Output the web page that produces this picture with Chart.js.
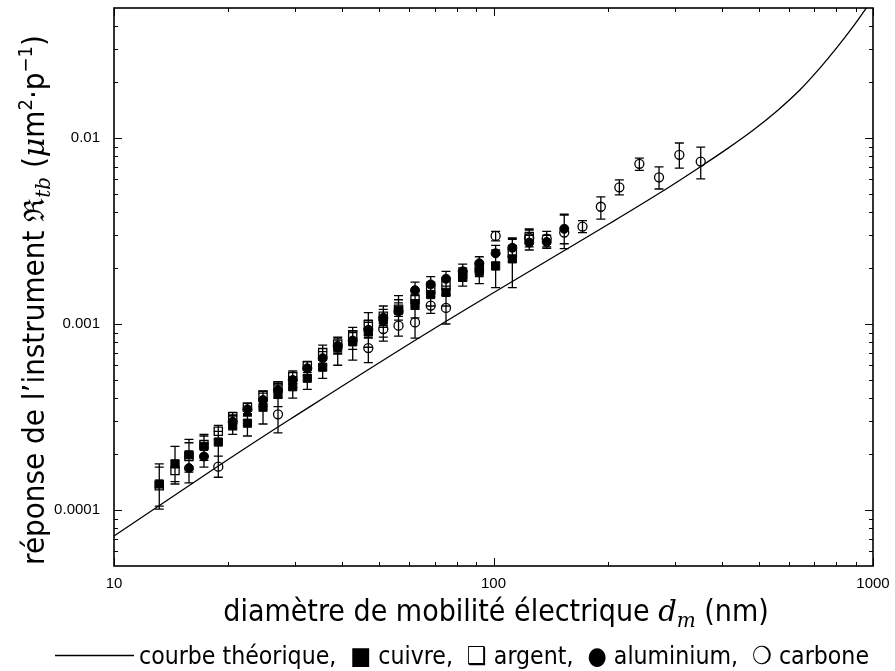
<!DOCTYPE html>
<html><head><meta charset="utf-8">
<script src="https://cdn.jsdelivr.net/npm/chart.js@4.4.1/dist/chart.umd.min.js"></script>
<style>html,body{margin:0;padding:0;background:#fff}canvas{display:block}</style>
</head><body>
<canvas id="c" width="895" height="671"></canvas>
<script>
// ---- data ----
const diameters = [13.16, 14.48, 15.76, 17.26, 18.83, 20.55, 22.47, 24.70, 27.05, 29.58, 32.31, 35.47, 38.86, 42.56, 46.79, 51.24, 56.20, 62.12, 68.32, 74.96, 82.96, 91.75, 101.3, 112.1, 124.2, 138.1, 153.6, 171.6, 191.8, 214.6, 242.3, 273.0, 308.8, 351.6];

const cuivre   = [1.38e-4,1.77e-4,1.98e-4,2.20e-4,2.32e-4,2.86e-4,2.93e-4,3.57e-4,4.18e-4,4.60e-4,5.11e-4,5.86e-4,7.49e-4,8.02e-4,9.09e-4,1.048e-3,1.185e-3,1.27e-3,1.44e-3,1.48e-3,1.78e-3,1.92e-3,2.05e-3,2.24e-3,null,null,null,null,null,null,null,null,null,null];
const cuivreLo = [1.01e-4,1.38e-4,1.60e-4,1.85e-4,1.95e-4,2.55e-4,2.50e-4,2.90e-4,3.60e-4,4.00e-4,4.45e-4,5.10e-4,6.00e-4,6.40e-4,7.50e-4,8.50e-4,8.60e-4,1.08e-3,1.25e-3,1.25e-3,1.60e-3,1.65e-3,1.57e-3,1.57e-3,null,null,null,null,null,null,null,null,null,null];
const cuivreHi = [1.77e-4,2.20e-4,2.40e-4,2.55e-4,2.65e-4,3.20e-4,3.30e-4,4.00e-4,4.70e-4,5.20e-4,5.70e-4,6.60e-4,8.50e-4,9.20e-4,1.05e-3,1.20e-3,1.42e-3,1.45e-3,1.65e-3,1.70e-3,2.00e-3,2.15e-3,2.50e-3,2.90e-3,null,null,null,null,null,null,null,null,null,null];

const argent   = [1.35e-4,1.63e-4,1.94e-4,2.25e-4,2.65e-4,3.17e-4,3.57e-4,4.15e-4,4.64e-4,5.21e-4,5.95e-4,7.02e-4,7.80e-4,8.75e-4,9.92e-4,1.10e-3,1.20e-3,1.353e-3,1.53e-3,1.61e-3,1.85e-3,2.00e-3,null,2.40e-3,2.95e-3,null,null,null,null,null,null,null,null,null];
const argentLo = [1.05e-4,1.42e-4,1.65e-4,1.95e-4,2.40e-4,2.90e-4,3.25e-4,3.85e-4,4.30e-4,4.80e-4,5.50e-4,6.40e-4,7.00e-4,7.90e-4,8.70e-4,9.80e-4,1.05e-3,1.20e-3,1.40e-3,1.45e-3,1.70e-3,1.80e-3,null,2.15e-3,2.60e-3,null,null,null,null,null,null,null,null,null];
const argentHi = [1.70e-4,1.85e-4,2.30e-4,2.50e-4,2.85e-4,3.35e-4,3.75e-4,4.35e-4,4.90e-4,5.60e-4,6.30e-4,7.70e-4,8.50e-4,9.60e-4,1.15e-3,1.25e-3,1.35e-3,1.50e-3,1.68e-3,1.75e-3,2.00e-3,2.15e-3,null,2.65e-3,3.25e-3,null,null,null,null,null,null,null,null,null];

const aluminium   = [null,null,1.68e-4,1.94e-4,null,2.98e-4,3.48e-4,3.90e-4,4.40e-4,5.00e-4,5.78e-4,6.55e-4,7.63e-4,8.15e-4,9.31e-4,1.08e-3,1.17e-3,1.52e-3,1.632e-3,1.75e-3,1.92e-3,2.12e-3,2.40e-3,2.57e-3,2.74e-3,2.76e-3,3.25e-3,null,null,null,null,null,null,null];
const aluminiumLo = [null,null,1.40e-4,1.70e-4,null,2.70e-4,3.20e-4,3.60e-4,4.00e-4,4.55e-4,5.30e-4,6.00e-4,6.90e-4,7.30e-4,8.40e-4,9.60e-4,1.05e-3,1.35e-3,1.48e-3,1.60e-3,1.75e-3,1.95e-3,2.15e-3,2.30e-3,2.50e-3,2.55e-3,2.70e-3,null,null,null,null,null,null,null];
const aluminiumHi = [null,null,2.05e-4,2.15e-4,null,3.25e-4,3.75e-4,4.25e-4,4.80e-4,5.50e-4,6.30e-4,7.10e-4,8.40e-4,9.00e-4,1.02e-3,1.20e-3,1.30e-3,1.68e-3,1.80e-3,1.92e-3,2.10e-3,2.30e-3,2.65e-3,2.85e-3,3.00e-3,3.00e-3,3.85e-3,null,null,null,null,null,null,null];

const carbone   = [null,null,null,null,1.71e-4,null,null,null,3.27e-4,null,null,null,null,null,7.42e-4,9.40e-4,9.80e-4,1.02e-3,1.256e-3,1.22e-3,null,null,2.975e-3,null,2.90e-3,2.88e-3,3.10e-3,3.34e-3,4.27e-3,5.43e-3,7.26e-3,6.15e-3,8.12e-3,7.47e-3];
const carboneLo = [null,null,null,null,1.50e-4,null,null,null,2.60e-4,null,null,null,null,null,6.20e-4,8.10e-4,8.60e-4,8.40e-4,1.14e-3,1.00e-3,null,null,2.80e-3,null,2.70e-3,2.60e-3,2.54e-3,3.10e-3,3.66e-3,4.95e-3,6.70e-3,5.32e-3,6.88e-3,6.03e-3];
const carboneHi = [null,null,null,null,1.95e-4,null,null,null,4.00e-4,null,null,null,null,null,8.50e-4,1.05e-3,1.10e-3,1.20e-3,1.40e-3,1.42e-3,null,null,3.15e-3,null,3.20e-3,3.15e-3,3.90e-3,3.60e-3,4.83e-3,5.95e-3,7.80e-3,7.00e-3,9.40e-3,8.94e-3];

const curveX = [10, 18.83, 29.1, 68.8, 202.8, 274.7, 350.1, 412.4, 482.9, 558.5, 642.3, 725.2, 803.9, 886.0, 952.8, 988];
const curveY = [7.25e-5, 1.724e-4, 3.074e-4, 9.29e-4, 3.48e-3, 5.075e-3, 6.985e-3, 8.74e-3, 0.01101, 0.01397, 0.01816, 0.02384, 0.0307, 0.03972, 0.04891, 0.0543];

const xTickValues = [10, 100, 1000];
const xTickLabels = ['10', '100', '1000'];
const xMinorTicks = [20,30,40,50,60,70,80,90,200,300,400,500,600,700,800,900];
const yTickValues = [0.0001, 0.001, 0.01];
const yTickLabels = ['0.0001', '0.001', '0.01'];
const yMinorTicks = [6e-5,7e-5,8e-5,9e-5,2e-4,3e-4,4e-4,5e-4,6e-4,7e-4,8e-4,9e-4,2e-3,3e-3,4e-3,5e-3,6e-3,7e-3,8e-3,9e-3,2e-2,3e-2,4e-2];

const legendText = 'courbe théorique,  \u25A0 cuivre,  \u2751 argent,  \u25CF aluminium,  \u274D carbone';

// ---- helpers ----
function pts(ys){ const out=[]; ys.forEach((v,i)=>{ if(v!==null) out.push({x:diameters[i], y:v}); }); return out; }
const errorSeries = [
  {y:carbone, lo:carboneLo, hi:carboneHi},
  {y:aluminium, lo:aluminiumLo, hi:aluminiumHi},
  {y:argent, lo:argentLo, hi:argentHi},
  {y:cuivre, lo:cuivreLo, hi:cuivreHi}
];

const SANS = '"DejaVu Sans Condensed", "Liberation Sans Narrow", "DejaVu Sans", sans-serif';
const MATH = '"DejaVu Serif", "Liberation Serif", serif';

function drawRich(ctx, segs, cx, cy, rotate){
  ctx.save();
  ctx.translate(cx, cy);
  if (rotate) ctx.rotate(-Math.PI/2);
  ctx.textBaseline = 'alphabetic';
  ctx.textAlign = 'left';
  ctx.fillStyle = '#000';
  let total = 0;
  segs.forEach(s => { ctx.font = s.f; s.w = ctx.measureText(s.t).width; total += s.w; });
  let xx = -total/2;
  segs.forEach(s => { ctx.font = s.f; ctx.fillText(s.t, xx, s.dy || 0); xx += s.w; });
  ctx.restore();
}

const errorBars = {
  id: 'errorBars',
  beforeDatasetsDraw(chart){
    const {ctx, scales:{x, y}} = chart;
    ctx.save();
    ctx.strokeStyle = '#000';
    ctx.lineWidth = 1.3;
    ctx.beginPath();
    errorSeries.forEach(s => {
      s.y.forEach((v, i) => {
        if (v === null) return;
        const px = x.getPixelForValue(diameters[i]);
        const pl = y.getPixelForValue(s.lo[i]);
        const ph = y.getPixelForValue(s.hi[i]);
        ctx.moveTo(px, pl); ctx.lineTo(px, ph);
        ctx.moveTo(px-4.5, pl); ctx.lineTo(px+4.5, pl);
        ctx.moveTo(px-4.5, ph); ctx.lineTo(px+4.5, ph);
      });
    });
    ctx.stroke();
    ctx.restore();
  }
};

const frame = {
  id: 'frame',
  afterDatasetsDraw(chart){
    const {ctx, chartArea:a, scales:{x, y}} = chart;
    ctx.save();
    ctx.strokeStyle = '#000';
    ctx.lineWidth = 1;
    ctx.beginPath();
    const xt = (v, len) => { const p = Math.round(x.getPixelForValue(v)) + 0.5;
      ctx.moveTo(p, a.bottom); ctx.lineTo(p, a.bottom - len);
      ctx.moveTo(p, a.top); ctx.lineTo(p, a.top + len); };
    const yt = (v, len) => { const p = Math.round(y.getPixelForValue(v)) + 0.5;
      ctx.moveTo(a.left, p); ctx.lineTo(a.left + len, p);
      ctx.moveTo(a.right, p); ctx.lineTo(a.right - len, p); };
    xTickValues.forEach(v => xt(v, 8));
    xMinorTicks.forEach(v => xt(v, 4));
    yTickValues.forEach(v => yt(v, 8));
    yMinorTicks.forEach(v => yt(v, 4));
    ctx.stroke();
    ctx.lineWidth = 1.6;
    ctx.strokeRect(a.left, a.top, a.right - a.left, a.bottom - a.top);
    ctx.restore();
  },
  afterDraw(chart){
    const ctx = chart.ctx;
    // x axis title
    drawRich(ctx, [
      {t:'diamètre de mobilité électrique ', f:'30px ' + SANS},
      {t:'d', f:'italic 29px ' + MATH},
      {t:'m', f:'italic 20px ' + MATH, dy:6},
      {t:' (nm)', f:'30px ' + SANS}
    ], 496, 621, false);
    // y axis title
    drawRich(ctx, [
      {t:'réponse de l\u2019instrument ', f:'31px ' + SANS},
      {t:'\u211C', f:'28px ' + MATH},
      {t:'tb', f:'italic 20px ' + MATH, dy:6},
      {t:' (', f:'31px ' + SANS},
      {t:'\u03BC', f:'italic 30px ' + MATH},
      {t:'m', f:'31px ' + SANS},
      {t:'2', f:'20px ' + SANS, dy:-12},
      {t:'\u00B7p', f:'31px ' + SANS},
      {t:'\u22121', f:'20px ' + SANS, dy:-12},
      {t:')', f:'31px ' + SANS}
    ], 44, 300, true);
    // legend
    ctx.save();
    ctx.strokeStyle = '#000';
    ctx.lineWidth = 1.6;
    ctx.beginPath();
    ctx.moveTo(55, 655.5); ctx.lineTo(134, 655.5);
    ctx.stroke();
    ctx.fillStyle = '#000';
    ctx.font = '24.6px ' + SANS;
    ctx.textBaseline = 'alphabetic';
    ctx.fillText(legendText, 139, 664);
    ctx.restore();
  }
};

new Chart(document.getElementById('c'), {
  type: 'scatter',
  data: {
    datasets: [
      {label:'cuivre', data: pts(cuivre), pointStyle:'rect', pointRadius:5.8, backgroundColor:'#000', borderColor:'#000', borderWidth:1, order:1},
      {label:'argent', data: pts(argent), pointStyle:'rect', pointRadius:5.8, backgroundColor:'rgba(255,255,255,0)', borderColor:'#000', borderWidth:1.3, order:2},
      {label:'aluminium', data: pts(aluminium), pointStyle:'circle', pointRadius:4.5, backgroundColor:'#000', borderColor:'#000', borderWidth:1, order:3},
      {label:'carbone', data: pts(carbone), pointStyle:'circle', pointRadius:4.5, backgroundColor:'rgba(255,255,255,0)', borderColor:'#000', borderWidth:1.3, order:4},
      {label:'courbe théorique', data: curveX.map((v,i)=>({x:v, y:curveY[i]})), showLine:true, pointRadius:0, borderColor:'#000', borderWidth:1.3, tension:0.35, fill:false, order:10}
    ]
  },
  options: {
    responsive: false,
    devicePixelRatio: 1,
    animation: false,
    layout: {padding: {left:0, top:8, right:22, bottom:0}},
    plugins: {legend:{display:false}, tooltip:{enabled:false}},
    scales: {
      x: {
        type:'logarithmic', min:10, max:1000,
        afterBuildTicks: s => { s.ticks = xTickValues.map(v => ({value:v, major:true})); },
        afterFit: s => { s.height = 105; s.paddingLeft = 0; s.paddingRight = 0; },
        grid:{display:false, drawTicks:false},
        border:{display:false},
        ticks:{callback:(v,i)=>xTickLabels[i], color:'#000', padding:9, maxRotation:0, autoSkip:false,
               font:{family:'"Liberation Sans", Arial, sans-serif', size:15}}
      },
      y: {
        type:'logarithmic', min:5e-5, max:0.05,
        afterBuildTicks: s => { s.ticks = yTickValues.map(v => ({value:v, major:true})); },
        afterFit: s => { s.width = 114; s.paddingTop = 0; s.paddingBottom = 0; },
        grid:{display:false, drawTicks:false},
        border:{display:false},
        ticks:{callback:(v,i)=>yTickLabels[i], color:'#000', padding:14, autoSkip:false,
               font:{family:'"Liberation Sans", Arial, sans-serif', size:15}}
      }
    }
  },
  plugins: [errorBars, frame]
});
</script>
</body></html>
